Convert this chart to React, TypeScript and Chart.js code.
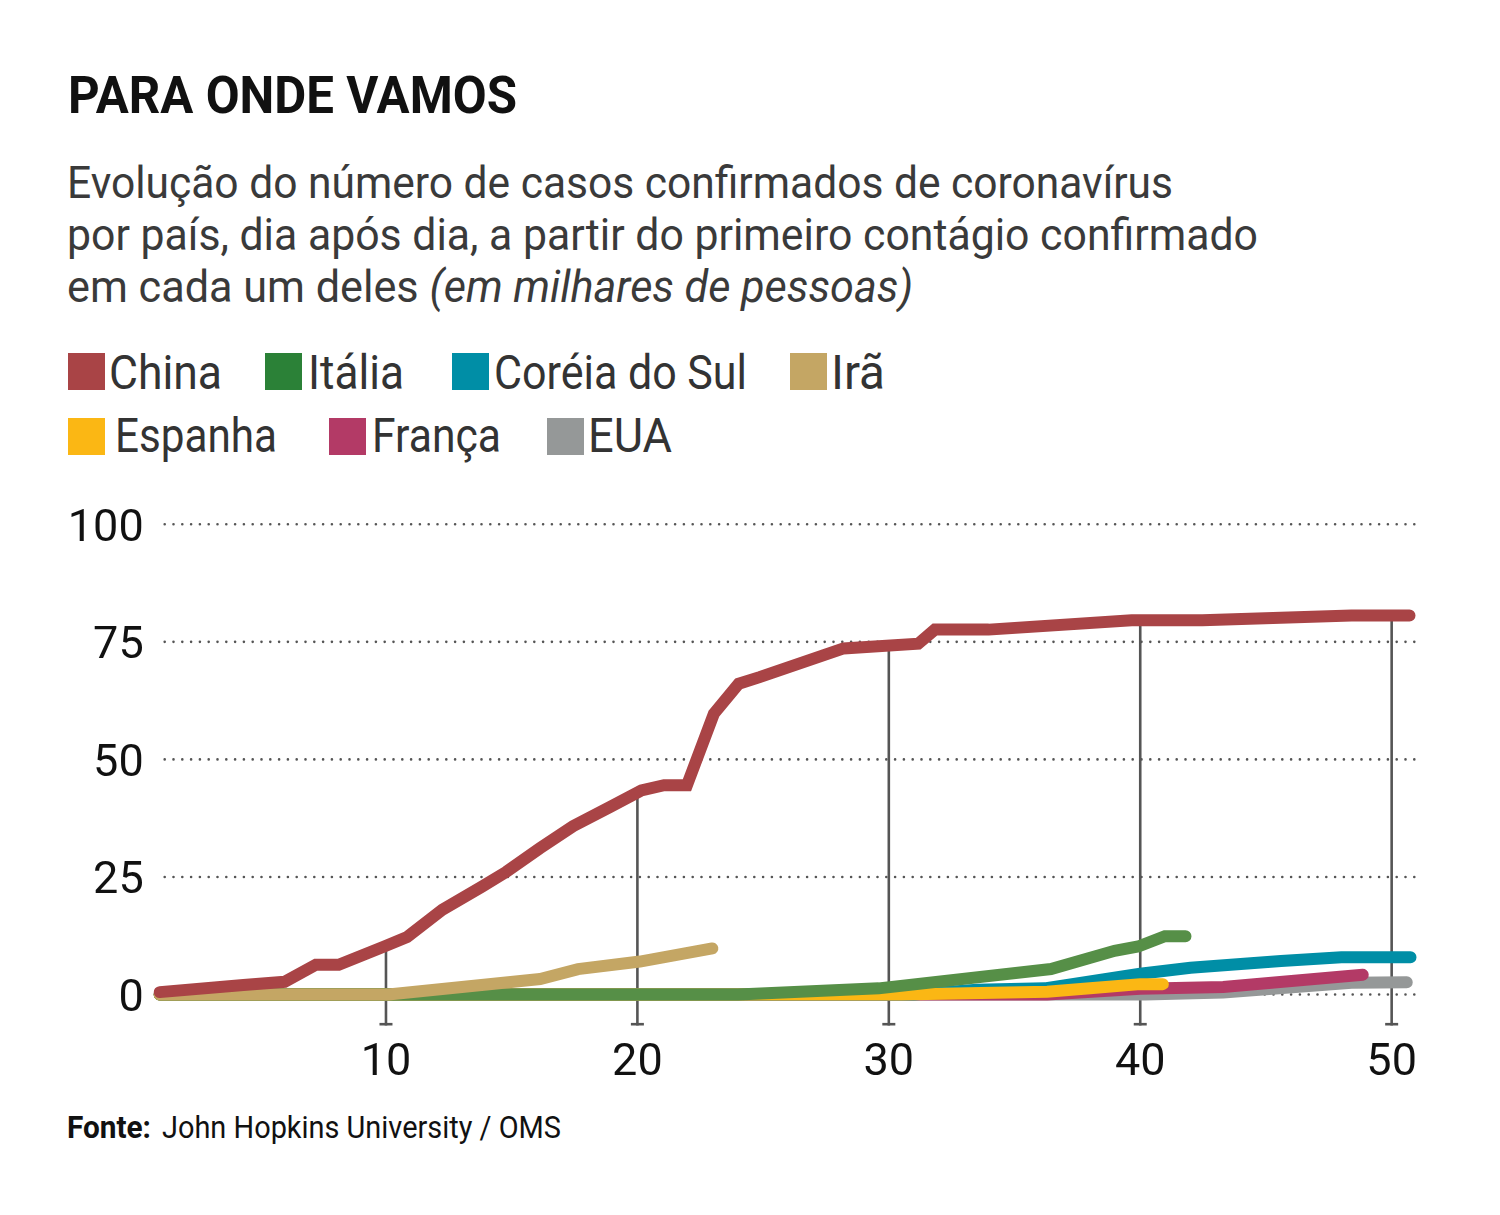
import React, { useEffect, useLayoutEffect, useRef } from 'react';
import { Chart, registerables } from 'chart.js';

Chart.register(...registerables);

// ---------- data (days since first confirmed case, thousands of cases) ----------
const seriesNames = ['China', 'Itália', 'Coréia do Sul', 'Irã', 'Espanha', 'França', 'EUA'];
const legendColors = ['#a94446', '#2b8137', '#008ea6', '#c4a664', '#fbb714', '#b33a66', '#959898'];
const lineColors = ['#a94446', '#568f47', '#008ea6', '#c4a664', '#fbb714', '#b33a66', '#959898'];

const chinaDays = [1, 4.33, 5.97, 7.21, 8.12, 9.93, 10.84, 12.24, 13.81, 14.79, 16.12, 17.44, 18.92, 20.16, 21.06, 21.97, 23.04, 24.03, 24.86, 28.2, 31.17, 31.83, 33.97, 39.66, 42.47, 48.4, 50.71];
const chinaVals = [0.5, 2.0, 2.7, 6.3, 6.3, 10.2, 12.2, 18.0, 22.9, 26.1, 31.1, 35.8, 39.9, 43.4, 44.5, 44.5, 59.7, 66.1, 67.5, 73.6, 74.6, 77.6, 77.6, 79.6, 79.6, 80.6, 80.6];

const italyDays = [1, 24, 29.6, 36.45, 38.98, 39.92, 40.98, 41.8];
const italyVals = [0, 0, 1.3, 5.4, 9.3, 10.2, 12.4, 12.4];

const koreaDays = [1, 31, 33.5, 36.2, 40, 42, 45.6, 48, 50.75];
const koreaVals = [0, 0, 1.0, 1.3, 4.4, 5.7, 7.1, 7.9, 7.9];

const iranDays = [1, 10.1, 13.02, 16.13, 17.64, 20.1, 22.98];
const iranVals = [0, 0, 1.6, 3.3, 5.4, 7.0, 9.8];

const spainDays = [1, 30.5, 36.3, 38, 40, 40.9];
const spainVals = [0, 0, 0.6, 1.3, 2.2, 2.2];

const franceDays = [1, 36.3, 40, 43.3, 48.85];
const franceVals = [0, 0, 1.2, 1.6, 4.2];

const usaDays = [1, 40.2, 43.3, 48.4, 50.6];
const usaVals = [0, 0, 0.4, 2.5, 2.6];

const xTicks = [10, 20, 30, 40, 50];
const yTicks = [0, 25, 50, 75, 100];

const FONT = '"Liberation Sans Narrow", Roboto, "Liberation Sans", sans-serif';

function interp(xs: number[], ys: number[], x: number) {
  for (let i = 0; i < xs.length - 1; i++) {
    if (x >= xs[i] && x <= xs[i + 1]) {
      const t = (x - xs[i]) / (xs[i + 1] - xs[i]);
      return ys[i] + t * (ys[i + 1] - ys[i]);
    }
  }
  return ys[ys.length - 1];
}

function hasFont(name: string) {
  const c = document.createElement('canvas').getContext('2d');
  if (!c) return false;
  const s = 'mmmmmmmmmmlli10OOWW';
  c.font = '40px monospace';
  const a = c.measureText(s).width;
  c.font = `40px "${name}", monospace`;
  const b = c.measureText(s).width;
  return Math.abs(a - b) > 0.5;
}

function FitText({ x, base, w, fs, weight = 400, color = '#333', children }: any) {
  const ref = useRef<HTMLSpanElement>(null);
  useLayoutEffect(() => {
    const el = ref.current;
    if (!el) return;
    el.style.transform = 'none';
    const nat = el.getBoundingClientRect().width;
    if (nat > 0) el.style.transform = `scaleX(${w / nat})`;
  });
  return (
    <span
      ref={ref}
      style={{
        position: 'absolute',
        left: x,
        top: base - 0.845 * fs,
        fontFamily: FONT,
        fontSize: fs,
        fontWeight: weight,
        lineHeight: `${fs}px`,
        color,
        whiteSpace: 'nowrap',
        transformOrigin: '0 0',
        display: 'inline-block',
      }}
    >
      {children}
    </span>
  );
}

function LineChart() {
  const ref = useRef<HTMLCanvasElement>(null);
  useEffect(() => {
    const canvas = ref.current;
    if (!canvas) return;
    const narrow = hasFont('Liberation Sans Narrow');
    const tickFont = { family: FONT, size: narrow ? 47 : 45, weight: 400 as const, lineHeight: 1.2 };

    const sets: [number, number[], number[]][] = [
      [0, chinaDays, chinaVals],
      [3, iranDays, iranVals],
      [1, italyDays, italyVals],
      [4, spainDays, spainVals],
      [2, koreaDays, koreaVals],
      [5, franceDays, franceVals],
      [6, usaDays, usaVals],
    ];
    const datasets = sets.map(([idx, ds, vs]) => ({
      label: seriesNames[idx],
      data: ds.map((d, i) => ({ x: d, y: vs[i] })),
      borderColor: lineColors[idx],
      backgroundColor: lineColors[idx],
      borderWidth: 12,
      borderCapStyle: 'round' as const,
      borderJoinStyle: 'miter' as const,
      pointRadius: 0,
      tension: 0,
      fill: false,
      clip: false as any,
    }));

    const gridPlugin = {
      id: 'customGrid',
      beforeDatasetsDraw(chart: any) {
        const { ctx, chartArea, scales } = chart;
        const xs = scales.x;
        const ys = scales.y;
        ctx.save();
        ctx.strokeStyle = '#555';
        ctx.lineWidth = 2.6;
        ctx.lineCap = 'round';
        ctx.setLineDash([0, 8.8]);
        for (const v of yTicks) {
          const y = ys.getPixelForValue(v);
          ctx.beginPath();
          ctx.moveTo(chartArea.left + 5, y);
          ctx.lineTo(chartArea.right - 2, y);
          ctx.stroke();
        }
        ctx.setLineDash([]);
        ctx.lineCap = 'butt';
        for (const t of xTicks) {
          const x = xs.getPixelForValue(t);
          const top = ys.getPixelForValue(interp(chinaDays, chinaVals, t));
          const bottom = chartArea.bottom;
          ctx.beginPath();
          ctx.moveTo(x, top);
          ctx.lineTo(x, bottom);
          ctx.stroke();
          ctx.beginPath();
          ctx.moveTo(x - 6.5, bottom - 1.3);
          ctx.lineTo(x + 6.5, bottom - 1.3);
          ctx.stroke();
        }
        ctx.restore();
      },
    };

    const chart = new Chart(canvas, {
      type: 'line',
      data: { datasets },
      options: {
        animation: false,
        responsive: false,
        events: [],
        layout: { padding: { left: 0, right: 83.2, top: 44.3, bottom: 0 } },
        plugins: { legend: { display: false }, tooltip: { enabled: false } },
        scales: {
          x: {
            type: 'linear',
            min: 1,
            max: 51,
            grid: { display: false, drawTicks: false },
            border: { display: false },
            afterBuildTicks: (s: any) => {
              s.ticks = xTicks.map((v) => ({ value: v }));
            },
            afterFit: (s: any) => {
              s.height = 74.5;
            },
            ticks: {
              font: tickFont,
              color: '#111',
              padding: 11,
              maxRotation: 0,
              autoSkip: false,
              callback: (v: any) => String(v),
            },
          },
          y: {
            type: 'linear',
            min: -6.6,
            max: 100,
            grid: { display: false, drawTicks: false },
            border: { display: false },
            afterBuildTicks: (s: any) => {
              s.ticks = yTicks.map((v) => ({ value: v }));
            },
            afterFit: (s: any) => {
              s.width = 159.7;
            },
            ticks: {
              font: tickFont,
              color: '#111',
              padding: 16,
              labelOffset: 5,
              autoSkip: false,
              callback: (v: any) => String(v),
            },
          },
        },
      },
      plugins: [gridPlugin],
    });
    return () => chart.destroy();
  }, []);
  return (
    <canvas
      ref={ref}
      width={1500}
      height={620}
      style={{ position: 'absolute', left: 0, top: 480, width: 1500, height: 620 }}
    />
  );
}

export default function App() {
  const sq = (left: number, top: number, color: string) => (
    <div style={{ position: 'absolute', left, top, width: 37, height: 37, background: color }} />
  );
  return (
    <div style={{ position: 'absolute', left: 0, top: 0, width: 1500, height: 1215, background: '#fff', overflow: 'hidden' }}>
      <FitText x={67.5} base={113.5} fs={52} w={449} weight={700} color="#111">PARA ONDE VAMOS</FitText>
      <FitText x={66.5} base={198.5} fs={44} w={1106} color="#3a3a3a">Evolução do número de casos confirmados de coronavírus</FitText>
      <FitText x={66.5} base={250.5} fs={44} w={1191} color="#3a3a3a">por país, dia após dia, a partir do primeiro contágio confirmado</FitText>
      <FitText x={66.5} base={302.5} fs={44} w={846} color="#3a3a3a">
        em cada um deles <i>(em milhares de pessoas)</i>
      </FitText>

      {sq(67.5, 353, legendColors[0])}
      <FitText x={108.8} base={390} fs={48} w={113}>{seriesNames[0]}</FitText>
      {sq(264.5, 353, legendColors[1])}
      <FitText x={307.5} base={390} fs={48} w={96}>{seriesNames[1]}</FitText>
      {sq(452, 353, legendColors[2])}
      <FitText x={493.5} base={390} fs={48} w={253}>{seriesNames[2]}</FitText>
      {sq(789.5, 353, legendColors[3])}
      <FitText x={830.5} base={390} fs={48} w={54}>{seriesNames[3]}</FitText>

      {sq(67.5, 418, legendColors[4])}
      <FitText x={114.5} base={453} fs={48} w={162}>{seriesNames[4]}</FitText>
      {sq(328.5, 418, legendColors[5])}
      <FitText x={371.5} base={453} fs={48} w={129}>{seriesNames[5]}</FitText>
      {sq(546.5, 418, legendColors[6])}
      <FitText x={588} base={453} fs={48} w={84}>{seriesNames[6]}</FitText>

      <LineChart />

      <FitText x={66.5} base={1138} fs={32} w={84} weight={700} color="#111">Fonte:</FitText>
      <FitText x={161.5} base={1138} fs={32} w={399} color="#111">John Hopkins University / OMS</FitText>
    </div>
  );
}
